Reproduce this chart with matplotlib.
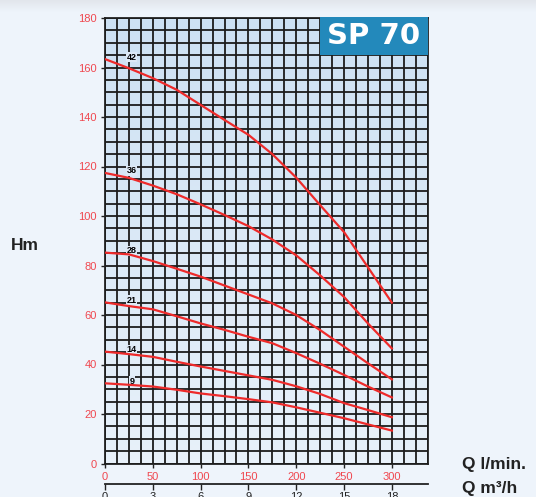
import numpy as np
import matplotlib.pyplot as plt
from matplotlib.patches import Rectangle

plt.rcParams['font.family'] = ['Liberation Sans', 'DejaVu Sans']

# Flow (l/min) and head (m)
flow = [0, 25, 50, 75, 100, 125, 150, 175, 200, 225, 250, 275, 300]
head_42 = [163.4, 159.7, 155.7, 151.0, 144.9, 138.8, 132.8, 125.0, 115.5, 104.4, 93.5, 79.3, 65.0]
head_36 = [117.4, 115.4, 112.3, 108.8, 104.7, 100.4, 95.9, 90.5, 84.1, 76.0, 67.3, 56.6, 46.5]
head_28 = [85.2, 84.5, 81.8, 78.7, 75.5, 71.9, 68.3, 64.7, 60.0, 53.9, 47.2, 40.5, 34.0]
head_21 = [65.1, 63.6, 62.3, 59.5, 56.6, 54.0, 51.2, 48.6, 44.6, 40.3, 35.8, 31.1, 26.7]
head_14 = [45.2, 44.2, 43.1, 41.1, 39.2, 37.4, 35.6, 33.8, 31.2, 28.1, 24.4, 21.6, 18.7]
head_9 = [32.4, 31.8, 31.1, 29.8, 28.3, 27.2, 26.0, 24.7, 22.7, 20.5, 18.3, 15.8, 13.3]
curves = {'42': head_42, '36': head_36, '28': head_28,
          '21': head_21, '14': head_14, '9': head_9}

y_ticks = [0, 20, 40, 60, 80, 100, 120, 140, 160, 180]
x_ticks = [0, 50, 100, 150, 200, 250, 300]
m3h_ticks = [0, 3, 6, 9, 12, 15, 18]

W, H = 536, 497
fig = plt.figure(figsize=(W / 100, H / 100), dpi=100)
fig.patch.set_facecolor('#eef4fb')

# slight grey band at top of figure
top = fig.add_axes([0, 1 - 12 / H, 1, 12 / H])
top.imshow(np.linspace(0, 1, 20).reshape(-1, 1),
           cmap=plt.matplotlib.colors.LinearSegmentedColormap.from_list('t', ['#e2e6ec', '#eef4fb']),
           aspect='auto', extent=[0, 1, 0, 1], zorder=0)
top.axis('off')

x0, x1, y0, y1 = 105, 427.7, 18, 463.5
ax = fig.add_axes([x0 / W, 1 - y1 / H, (x1 - x0) / W, (y1 - y0) / H])
ax.set_xlim(0, 337.5)
ax.set_ylim(0, 180)

cmap = plt.matplotlib.colors.LinearSegmentedColormap.from_list('bg', ['#e8f1fa', '#cde1f3'])
ax.imshow(np.linspace(0, 1, 100).reshape(-1, 1), cmap=cmap, origin='lower',
          extent=[0, 337.5, 0, 180], aspect='auto', zorder=0)

ax.set_xticks(x_ticks)
ax.set_yticks(y_ticks)
ax.set_xticks(np.arange(0, 337.6, 12.5), minor=True)
ax.set_yticks(np.arange(0, 180.1, 5), minor=True)
ax.grid(which='both', color='#1c1c1c', linewidth=1.3)
ax.set_axisbelow(False)
ax.tick_params(which='minor', length=0)
ax.tick_params(which='major', length=3, width=1, color='#222222',
               labelcolor='#f0474f', labelsize=8, pad=3)
for s in ax.spines.values():
    s.set_color('#222222')
    s.set_linewidth(1.3)

for name, h in curves.items():
    ax.plot(flow, h, color='#ee2a2a', linewidth=1.6, zorder=4)
    ax.text(28, h[0] - 1.0, name, fontsize=6.5, fontweight='bold', ha='center', va='bottom',
            zorder=3, bbox=dict(facecolor='#dde9f6', edgecolor='none', pad=0.3))

ax.add_patch(Rectangle((225, 165), 112.5, 15.4, facecolor='#2389bb', edgecolor='none',
                       zorder=5, clip_on=False))
ax.text(281, 172.6, 'SP 70', color='white', fontsize=21, fontweight='bold',
        family=['DejaVu Sans'], ha='center', va='center', zorder=6)

# second scale in m3/h
ax2 = fig.add_axes([x0 / W, 1 - 484 / H, (x1 - x0) / W, 0.0001])
ax2.set_xlim(0, 337.5 * 3 / 50)
ax2.set_xticks(m3h_ticks)
ax2.set_yticks([])
ax2.patch.set_alpha(0)
for k in ['top', 'left', 'right']:
    ax2.spines[k].set_visible(False)
ax2.spines['bottom'].set_color('#222222')
ax2.spines['bottom'].set_linewidth(1.3)
ax2.tick_params(length=4, width=1, color='#222222', labelcolor='#222222', labelsize=8, pad=1.5)

fig.text(25 / W, 1 - 245 / H, 'Hm', fontsize=12.5, fontweight='bold', ha='center', va='center', color='#222222')
fig.text(462 / W, 1 - 465 / H, 'Q l/min.', fontsize=12.5, fontweight='bold', ha='left', va='center', color='#222222')
fig.text(462 / W, 1 - 489 / H, 'Q m³/h', fontsize=12.5, fontweight='bold', ha='left', va='center', color='#222222')

fig.savefig('out.png', dpi=100, facecolor=fig.get_facecolor())
